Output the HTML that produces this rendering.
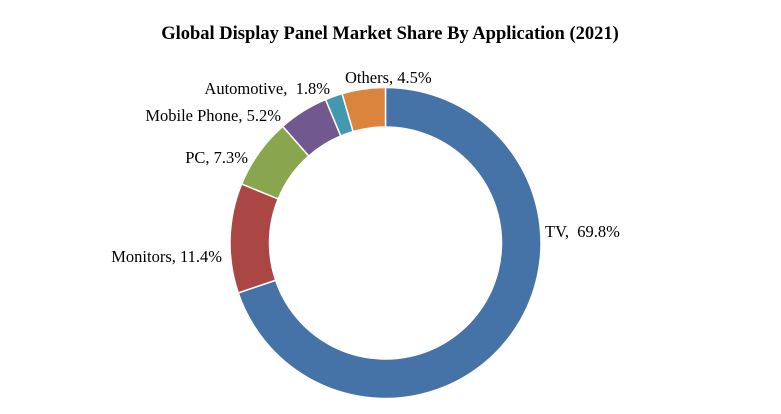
<!DOCTYPE html>
<html><head><meta charset="utf-8"><style>
html,body{margin:0;padding:0;background:#fff;}
svg{display:block;font-family:"Liberation Serif",serif;}
</style></head><body>
<svg id="chart" width="781" height="414" viewBox="0 0 781 414">
<text x="390" y="39" text-anchor="middle" font-size="18.5" font-weight="bold">Global Display Panel Market Share By Application (2021)</text>
<g id="slices"></g>
<g id="labels"></g>
</svg>
<script>
const categories = ["TV", "Monitors", "PC", "Mobile Phone", "Automotive", "Others"];
const values = [69.8, 11.4, 7.3, 5.2, 1.8, 4.5];
const labelText = ["TV,  69.8%", "Monitors, 11.4%", "PC, 7.3%", "Mobile Phone, 5.2%", "Automotive,  1.8%", "Others, 4.5%"];
const colors = ["#4572A7", "#AA4643", "#89A54E", "#71588F", "#4198AF", "#DB843D"];
// label layout (pixel placement, not data)
const labelPos = [[545,237,"start"],[222,262,"end"],[248,163,"end"],[281,121,"end"],[330,94,"end"],[345,83,"start"]];

const cx = 385.5, cy = 243, R = 155.5, r = 116;
const NS = "http://www.w3.org/2000/svg";
const total = values.reduce((a, b) => a + b, 0);
function pt(a, rad) { return [cx + rad * Math.sin(a), cy - rad * Math.cos(a)]; }
const gS = document.getElementById("slices"), gL = document.getElementById("labels");
let acc = 0;
values.forEach((v, i) => {
  const a0 = acc / total * 2 * Math.PI; acc += v;
  const a1 = acc / total * 2 * Math.PI;
  const large = (a1 - a0) > Math.PI ? 1 : 0;
  const [x0, y0] = pt(a0, R), [x1, y1] = pt(a1, R), [x2, y2] = pt(a1, r), [x3, y3] = pt(a0, r);
  const p = document.createElementNS(NS, "path");
  p.setAttribute("d", `M${x0},${y0}A${R},${R} 0 ${large} 1 ${x1},${y1}L${x2},${y2}A${r},${r} 0 ${large} 0 ${x3},${y3}Z`);
  p.setAttribute("fill", colors[i]);
  p.setAttribute("stroke", "#fff");
  p.setAttribute("stroke-width", "1.5");
  
  
  gS.appendChild(p);
  const t = document.createElementNS(NS, "text");
  t.setAttribute("x", labelPos[i][0]);
  t.setAttribute("y", labelPos[i][1]);
  t.setAttribute("text-anchor", labelPos[i][2]);
  t.setAttribute("font-size", "16.5");
  t.setAttribute("fill", "#000");
  t.setAttribute("xml:space", "preserve");
  t.style.whiteSpace = "pre";
  t.textContent = labelText[i];
  
  
  gL.appendChild(t);
});
</script>
</body></html>
